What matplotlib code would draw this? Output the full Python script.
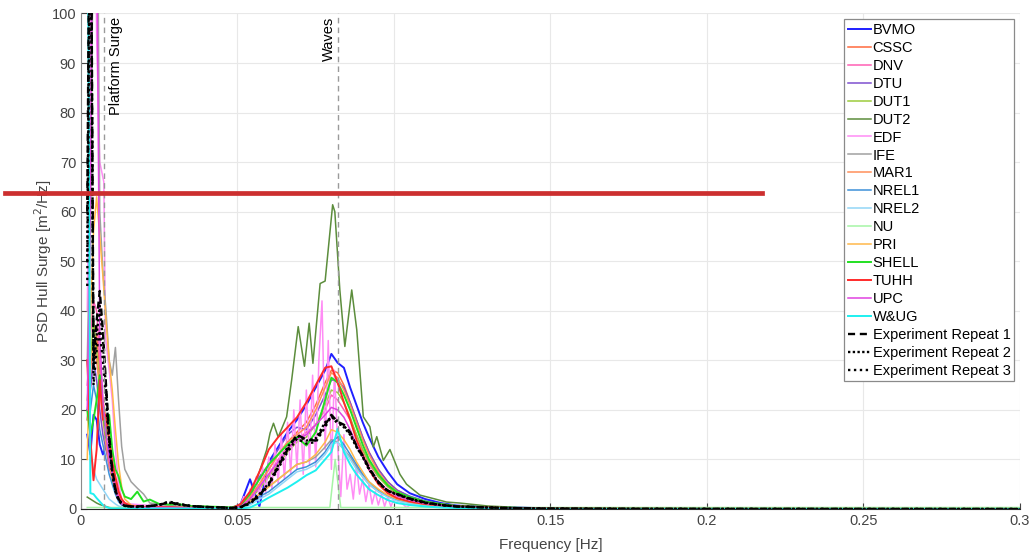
import numpy as np
import matplotlib.pyplot as plt
from matplotlib.lines import Line2D

plt.rcParams['font.family'] = ['Liberation Sans', 'DejaVu Sans']

# common frequency grid [Hz]
F = [0.002, 0.003, 0.004, 0.005, 0.006, 0.007, 0.008, 0.009, 0.010, 0.011, 0.012, 0.013, 0.014,
     0.016, 0.018, 0.020, 0.022, 0.025, 0.028, 0.031, 0.035, 0.040, 0.045, 0.048,
     0.051, 0.054, 0.057, 0.060, 0.063, 0.066, 0.069, 0.072, 0.075, 0.078, 0.080,
     0.082, 0.084, 0.086, 0.088, 0.090, 0.092, 0.095, 0.098, 0.101, 0.105,
     0.110, 0.115, 0.120, 0.130, 0.140, 0.150, 0.170, 0.200, 0.250, 0.300]

bvmo = [15, 11, 19, 18, 13, 11, 13, 12, 8, 5, 3, 1.9, 1.0,
        0.4, 0.3, 0.3, 0.3, 0.4, 0.4, 0.3, 0.3, 0.2, 0.2, 0.1,
        1, 6, 0.5, 9.5, 12.5, 15.5, 18, 21, 24.5, 28, 31.3, 29.5, 28.5, 24.5, 21, 17.5, 14.5, 10.5, 7.5, 5, 3.2,
        2.0, 1.2, 0.7, 0.4, 0.3, 0.1, 0.05, 0.02, 0.01, 0.0]
cssc = [20, 25, 30, 35, 28, 22, 18, 14, 9, 5, 2.5, 1.2, 0.7,
        0.4, 0.4, 0.3, 0.3, 0.4, 0.3, 0.3, 0.2, 0.2, 0.2, 0.1,
        0.5, 2.5, 5, 8, 11, 13.5, 15.5, 17.5, 21, 25.5, 28, 27.5, 25, 21.5, 18, 14.5, 11.5, 8, 5.5, 3.8, 2.5,
        1.5, 1.0, 0.6, 0.35, 0.2, 0.1, 0.05, 0.02, 0.01, 0]
dnv = [25, 35, 42, 40, 30, 20, 13, 8, 7, 6, 3, 1.5, 0.8,
       0.6, 0.5, 0.5, 0.4, 0.4, 0.3, 0.3, 0.2, 0.2, 0.2, 0.1,
       0.5, 2, 4.5, 7, 10, 12.5, 14, 15.5, 17, 20, 23, 22, 20, 18, 15, 12, 9, 6.5, 4.5, 3, 2,
       1.3, 0.8, 0.5, 0.3, 0.15, 0.08, 0.04, 0.02, 0.01, 0]
dtu = [18, 24, 30, 26, 20, 15, 12, 9, 6, 3.5, 2, 1, 0.6,
       0.4, 0.3, 0.3, 0.3, 0.3, 0.3, 0.2, 0.2, 0.2, 0.1, 0.1,
       0.8, 3, 6.5, 9, 12, 15, 16.5, 16, 19, 23, 26, 26, 24.5, 21.5, 18, 14.5, 11.5, 8, 5.5, 3.8, 2.6,
       1.6, 1.0, 0.6, 0.35, 0.2, 0.1, 0.05, 0.02, 0.01, 0]
dut1 = [22, 30, 38, 32, 25, 20, 14, 10, 6, 3.5, 2, 1, 0.5,
        0.3, 0.3, 0.2, 0.2, 0.3, 0.2, 0.2, 0.2, 0.1, 0.1, 0.1,
        0.5, 2, 4, 6.5, 9, 11.5, 13.5, 14.5, 17, 21, 24, 23.5, 21.5, 18.5, 15, 12, 9.5, 6.5, 4.5, 3, 2,
        1.2, 0.8, 0.5, 0.3, 0.15, 0.08, 0.04, 0.02, 0.01, 0]
ife = [30, 60, 120, 150, 60, 48, 40, 30, 27, 32.6, 22, 12.6, 8,
       5.5, 4.2, 3.0, 1.2, 1.0, 0.8, 0.7, 0.5, 0.4, 0.3, 0.2,
       0.3, 1.5, 3, 4.5, 6, 7.5, 9, 9.5, 10.5, 12.5, 14, 13.5, 12, 10.5, 8.5, 6.5, 5, 3.5, 2.5, 1.8, 1.3,
       0.8, 0.5, 0.3, 0.2, 0.1, 0.05, 0.03, 0.01, 0.01, 0]
mar1 = [18, 28, 33, 30, 24, 18, 13, 9, 6, 3.5, 2, 1, 0.6,
        0.5, 0.4, 0.3, 0.3, 0.3, 0.3, 0.2, 0.2, 0.2, 0.1, 0.1,
        0.5, 2.5, 5, 8, 11, 13.5, 15, 16.5, 20, 24.5, 27.5, 26.5, 24, 21, 17.5, 14, 11, 7.5, 5, 3.5, 2.3,
        1.4, 0.9, 0.6, 0.35, 0.2, 0.1, 0.05, 0.02, 0.01, 0]
nrel1 = [30, 20, 25, 22, 16, 13, 10, 7, 5, 3, 1.5, 0.8, 0.5,
         0.3, 0.3, 0.2, 0.2, 0.3, 0.2, 0.2, 0.1, 0.1, 0.1, 0.1,
         0.3, 1, 2.5, 3.5, 5, 6.5, 8, 8.5, 9.5, 11.5, 13.5, 14.5, 13, 11, 9, 7, 5.5, 3.8, 2.6, 1.8, 1.2,
         0.8, 0.5, 0.3, 0.2, 0.1, 0.05, 0.03, 0.01, 0.01, 0]
nrel2 = [150, 12, 8, 6, 5, 4, 3, 2, 1.5, 1, 0.6, 0.4, 0.3,
         0.2, 0.2, 0.2, 0.2, 0.2, 0.2, 0.2, 0.2, 0.1, 0.1, 0.1,
         0.2, 0.8, 2, 3, 4.5, 6, 7.5, 8, 9, 11, 13, 13.5, 12, 10, 8, 6.5, 5, 3.5, 2.4, 1.6, 1.1,
         0.7, 0.4, 0.25, 0.15, 0.1, 0.05, 0.02, 0.01, 0.01, 0]
pri = [10, 38, 56, 63, 55, 47, 38, 30, 24, 16, 9, 4.5, 2,
       0.8, 0.5, 0.4, 0.3, 0.3, 0.3, 0.2, 0.2, 0.2, 0.1, 0.1,
       0.3, 1.5, 3, 4.5, 6, 7.5, 9, 9.5, 11, 13.5, 16, 15.5, 14, 12, 9.5, 7.5, 5.5, 4, 2.8, 2, 1.4,
       0.9, 0.6, 0.35, 0.2, 0.1, 0.05, 0.03, 0.01, 0.01, 0]
shell = [20, 15, 18, 22, 27, 20, 14.4, 19, 12, 8, 6.6, 4, 2.5,
         2.0, 3.5, 1.5, 1.9, 1.0, 0.9, 1.0, 0.6, 0.5, 0.4, 0.3,
         0.8, 3, 6, 9, 11, 13, 14.5, 12.8, 15.5, 22, 26.5, 25.5, 23, 20, 16.5, 13, 10, 7, 4.8, 3.4, 2.4,
         1.5, 1.0, 0.6, 0.35, 0.2, 0.1, 0.05, 0.02, 0.01, 0]
tuhh = [30, 14, 5.8, 12, 26, 18, 19, 14, 9.5, 6.5, 3.6, 2, 1.2,
        0.6, 0.5, 0.4, 0.4, 0.4, 0.4, 0.3, 0.3, 0.2, 0.2, 0.1,
        1, 3.5, 7.5, 12, 14.5, 16.5, 18.5, 21.5, 25, 28.5, 28.8, 25.5, 21.5, 18, 14, 11, 8, 5, 3.2, 2.2, 1.5,
        1.0, 0.7, 0.5, 0.3, 0.15, 0.1, 0.05, 0.02, 0.01, 0]
upc = [20, 60, 150, 120, 35, 22, 15, 10, 7, 4, 2, 1, 0.6,
       0.4, 0.4, 0.3, 0.3, 0.3, 0.3, 0.2, 0.2, 0.2, 0.1, 0.1,
       0.5, 2, 4.5, 7, 9.5, 12, 14, 15, 17, 19, 20.5, 20, 18.5, 16, 13, 10.5, 8, 5.5, 3.8, 2.6, 1.8,
       1.1, 0.7, 0.45, 0.25, 0.12, 0.06, 0.03, 0.01, 0.01, 0]
wug = [150, 3.2, 3.0, 2.2, 1.5, 0.8, 0.4, 0.2, 0.1, 0.1, 0.1, 0.1, 0.1,
       0.1, 0.1, 0.1, 0.1, 0.1, 0.1, 0.1, 0.1, 0.1, 0.1, 0.1,
       0.1, 0.3, 1.2, 2.3, 3.3, 4.3, 5.5, 6.8, 7.8, 10, 11.5, 16.2, 11.5, 9, 7, 5.5, 4, 2.8, 1.8, 1.2, 0.8,
       0.5, 0.3, 0.2, 0.1, 0.05, 0.03, 0.01, 0.01, 0, 0]
exp1 = [60, 150, 30, 38, 44, 36, 25, 15, 8, 4, 2, 1.2, 0.7,
        0.5, 0.5, 0.6, 0.6, 0.8, 1.4, 1.0, 0.6, 0.4, 0.3, 0.2,
        0.4, 1.2, 2.8, 5, 8.5, 12, 15, 14, 13.8, 17, 19, 17.6, 17, 15.5, 12.8, 10.8, 8.3, 5.5, 3.7, 3.0, 2.1,
        1.3, 0.8, 0.5, 0.3, 0.15, 0.08, 0.04, 0.02, 0.01, 0]
exp2 = [50, 140, 28, 35, 41, 34, 24, 14, 7.5, 3.8, 1.9, 1.1, 0.6,
        0.5, 0.5, 0.5, 0.6, 0.9, 1.3, 0.9, 0.6, 0.4, 0.3, 0.2,
        0.4, 1.4, 3, 5.2, 8.8, 12.5, 14.8, 13.8, 14.2, 17.5, 18.5, 17.8, 16.5, 15, 12.5, 10.5, 8, 5.3, 3.6, 2.9, 2,
        1.2, 0.8, 0.5, 0.3, 0.15, 0.08, 0.04, 0.02, 0.01, 0]
exp3 = [45, 130, 25, 32, 36, 30, 22, 13, 7, 3.5, 1.8, 1.0, 0.6,
        0.5, 0.4, 0.5, 0.6, 0.8, 1.5, 1.1, 0.6, 0.4, 0.3, 0.2,
        0.3, 1.1, 2.6, 4.8, 8.2, 11.5, 14.2, 13.2, 13.5, 16.5, 18.8, 17.2, 16.8, 15.2, 12.6, 10.6, 8.2, 5.4, 3.7, 3.0, 2.1,
        1.3, 0.8, 0.5, 0.3, 0.15, 0.08, 0.04, 0.02, 0.01, 0]

# series with their own frequency points
dut2_f = [0.002, 0.003, 0.004, 0.005, 0.006, 0.007, 0.008, 0.009, 0.010, 0.012, 0.016, 0.025,
          0.035, 0.045, 0.048, 0.051, 0.0536, 0.0572, 0.0593, 0.0604, 0.0615, 0.0630, 0.0657,
          0.0673, 0.0694, 0.0714, 0.0729, 0.0741, 0.0764, 0.0780, 0.0804, 0.0811, 0.0827, 0.0843,
          0.0865, 0.0881, 0.0902, 0.0923, 0.0934, 0.0945, 0.0966, 0.0987, 0.1019, 0.1040, 0.1083,
          0.1120, 0.1168, 0.1210, 0.1300, 0.1400, 0.1500, 0.2000, 0.3000]
dut2 = [2.4, 2.0, 1.6, 1.2, 0.9, 0.7, 0.5, 0.3, 0.2, 0.1, 0.1, 0.1,
        0.1, 0.1, 0.2, 0.6, 1.2, 7.9, 11.9, 15.3, 17.3, 14.5, 18.6,
        26.0, 36.8, 28.8, 37.5, 29.4, 45.5, 46.0, 61.4, 60.0, 44.2, 32.8,
        44.2, 36.2, 18.6, 16.6, 12.5, 14.6, 9.8, 12.0, 7.0, 5.0, 2.8,
        2.2, 1.4, 1.2, 0.6, 0.3, 0.1, 0.02, 0.0]

edf_f = [0.002, 0.003, 0.004, 0.005, 0.006, 0.0073, 0.0078, 0.009, 0.010, 0.011, 0.012, 0.013,
         0.014, 0.016, 0.020, 0.025, 0.030, 0.035, 0.040, 0.045, 0.048,
         0.050, 0.051, 0.052, 0.053, 0.054, 0.055, 0.056, 0.057, 0.058, 0.059, 0.060, 0.061,
         0.062, 0.063, 0.064, 0.065, 0.066, 0.067, 0.068, 0.069, 0.070, 0.071, 0.072, 0.073,
         0.074, 0.075, 0.076, 0.077, 0.078, 0.079, 0.080, 0.081, 0.082, 0.083, 0.084, 0.085,
         0.086, 0.087, 0.088, 0.089, 0.090, 0.091, 0.092, 0.093, 0.094, 0.095, 0.096, 0.097,
         0.098, 0.099, 0.100, 0.102, 0.104, 0.106, 0.110, 0.115, 0.120, 0.130, 0.150, 0.200, 0.300]
edf = [40, 90, 160, 95, 70, 66, 35, 28, 22, 12, 5, 2,
       1.2, 1.0, 0.8, 0.6, 0.7, 0.5, 0.4, 0.3, 0.2,
       0.3, 1.0, 2.5, 1.0, 4.0, 1.5, 6.5, 2.0, 8.5, 3.0, 10.5, 4.0,
       13.0, 5.0, 15.0, 6.0, 17.5, 7.0, 20.0, 8.0, 22.0, 7.0, 24.0, 9.0,
       27.0, 8.5, 30.0, 42.0, 12.0, 34.0, 8.0, 28.0, 13.0, 2.5, 15.0, 4.0,
       7.0, 2.0, 9.0, 3.0, 6.0, 1.5, 5.0, 1.0, 3.5, 0.8, 3.0, 0.5,
       2.5, 0.5, 2.0, 1.5, 0.3, 1.2, 0.8, 0.5, 0.3, 0.15, 0.05, 0.02, 0.0]

nu_f = [0.002, 0.010, 0.030, 0.050, 0.0795, 0.0812, 0.0830, 0.1000, 0.2000, 0.3000]
nu = [0.3, 0.3, 0.3, 0.3, 0.3, 10.0, 0.3, 0.3, 0.3, 0.3]

platform_surge_f = 0.0075
waves_f = 0.0822

series = [
    ('BVMO', F, bvmo, '#1f1fff'),
    ('CSSC', F, cssc, '#ff6a3d'),
    ('DNV', F, dnv, '#ff5fb4'),
    ('DTU', F, dtu, '#7e4fd0'),
    ('DUT1', F, dut1, '#9ccc3c'),
    ('DUT2', dut2_f, dut2, '#5c8d3c'),
    ('EDF', edf_f, edf, '#ff8cf5'),
    ('IFE', F, ife, '#a0a0a0'),
    ('MAR1', F, mar1, '#ff8f5a'),
    ('NREL1', F, nrel1, '#3d91d9'),
    ('NREL2', F, nrel2, '#92d6f7'),
    ('NU', nu_f, nu, '#a6f5a6'),
    ('PRI', F, pri, '#ffb84a'),
    ('SHELL', F, shell, '#22e022'),
    ('TUHH', F, tuhh, '#ff2a2a'),
    ('UPC', F, upc, '#e043e0'),
    ('W&UG', F, wug, '#1ef0f0'),
]

fig = plt.figure(figsize=(10.33, 5.57), dpi=100)
ax = fig.add_axes([0.0784, 0.0862, 0.9090, 0.8896])

for name, fx, fy, col in series:
    lw = 1.4 if name in ('TUHH', 'SHELL', 'W&UG', 'BVMO') else 1.1
    ax.plot(fx, fy, color=col, lw=lw, label=name)

ax.plot(F, exp1, color='black', lw=1.7, dashes=(3, 2), label='Experiment Repeat 1')
ax.plot(F, exp2, color='black', lw=1.7, dashes=(1, 1), label='Experiment Repeat 2')
ax.plot(F, exp3, color='black', lw=1.7, dashes=(1, 1.5), label='Experiment Repeat 3')

ax.axvline(platform_surge_f, color='#9a9a9a', lw=1.0, dashes=(4, 3), zorder=5)
ax.axvline(waves_f, color='#9a9a9a', lw=1.0, dashes=(4, 3), zorder=5)
ax.annotate('Platform Surge', (platform_surge_f, 99.3), xytext=(3, 0),
            textcoords='offset points', rotation=90, ha='left', va='top', fontsize=10.5)
ax.annotate('Waves', (waves_f, 99.3), xytext=(-2, 0),
            textcoords='offset points', rotation=90, ha='right', va='top', fontsize=10.5)

ax.set_xlim(0, 0.3)
ax.set_ylim(0, 100)
ax.set_xticks(np.arange(0, 0.31, 0.05))
ax.set_xticklabels(['0', '0.05', '0.1', '0.15', '0.2', '0.25', '0.3'])
ax.set_yticks(np.arange(0, 101, 10))
ax.grid(True, color='#e8e8e8', lw=0.8)
ax.set_axisbelow(True)
ax.tick_params(direction='in', length=4, width=0.8, labelsize=10.5, colors='#444444',
               top=False, right=False)
ax.spines['top'].set_visible(False)
ax.spines['right'].set_visible(False)
ax.spines['left'].set_color('#8a8a8a')
ax.spines['bottom'].set_color('#262626')
ax.set_xlabel('Frequency [Hz]', fontsize=11, color='#444444', labelpad=7)
ax.set_ylabel('PSD Hull Surge [m$^2$/Hz]', fontsize=11, color='#444444', labelpad=-2)

leg = ax.legend(loc='upper right', fontsize=10.5, frameon=True, fancybox=False,
                edgecolor='#8a8a8a', framealpha=1, handlelength=1.6, handletextpad=0.12,
                labelspacing=0.27, borderpad=0.25, borderaxespad=0.4)
leg.get_frame().set_linewidth(0.9)

# red marker line across the figure
fig.add_artist(Line2D([5 / 1033, 762 / 1033], [1 - 193 / 557] * 2, transform=fig.transFigure,
                      color='#cc2f2f', lw=3.4, zorder=20))

fig.savefig('out.png', dpi=100)
